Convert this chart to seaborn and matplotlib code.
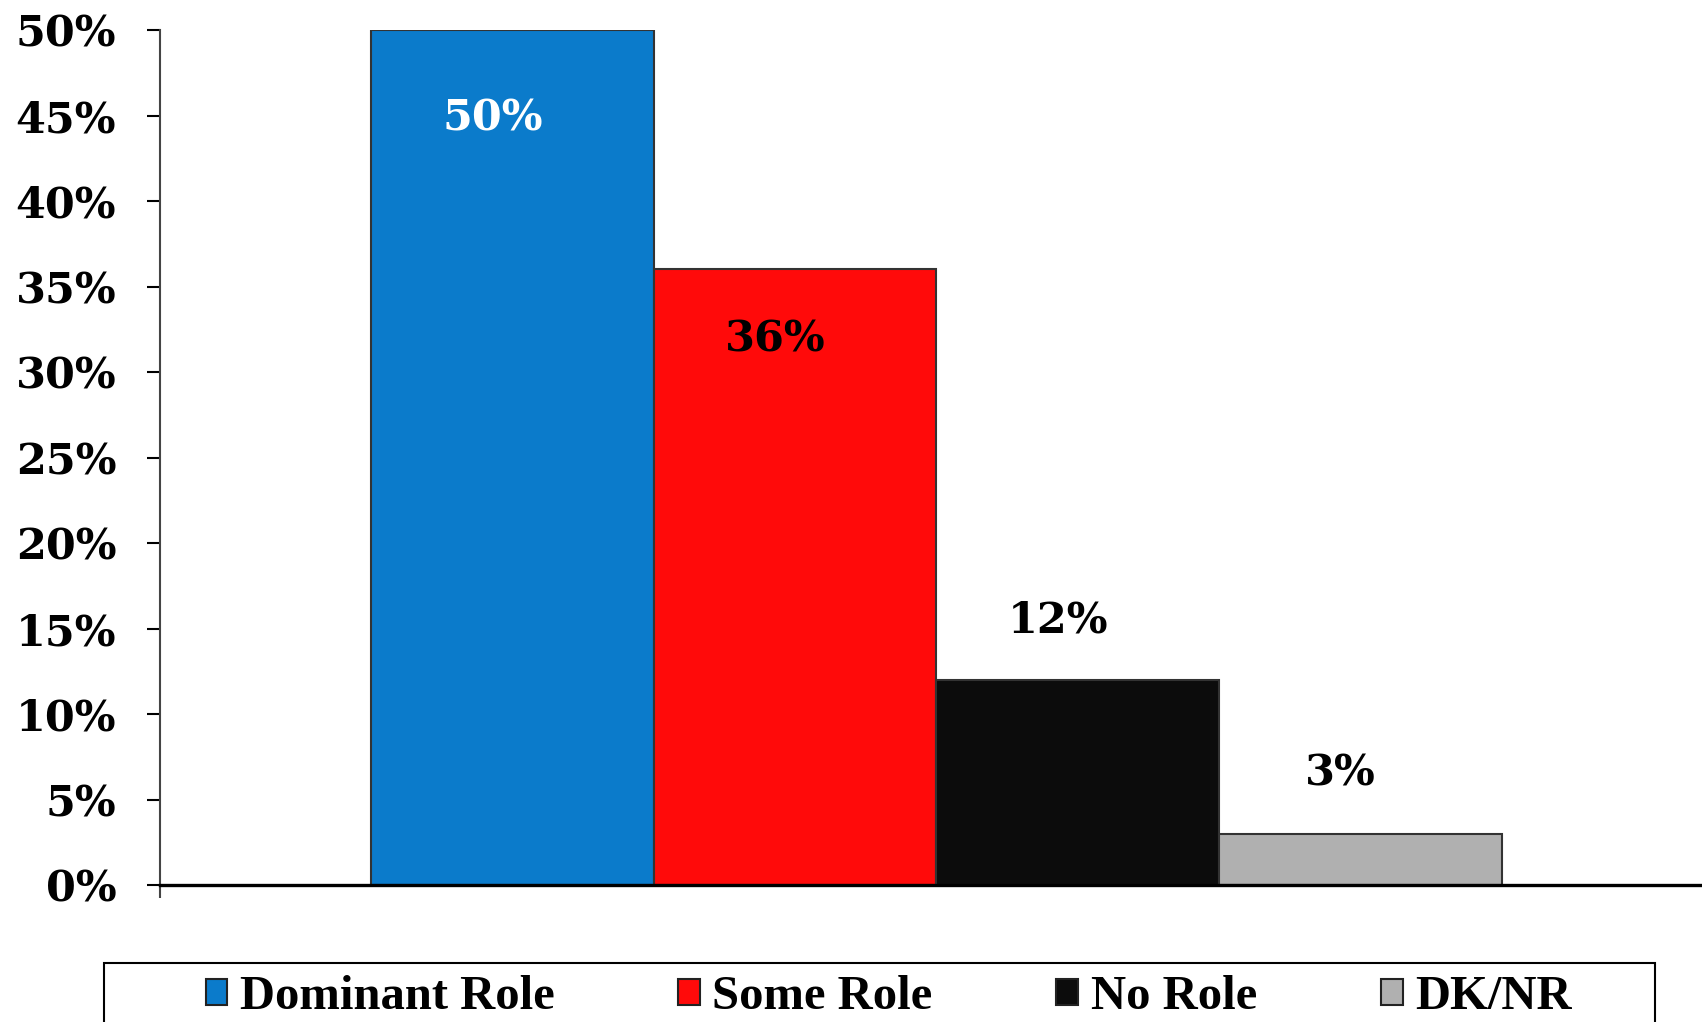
import pandas as pd
import matplotlib
matplotlib.use('Agg')
import matplotlib.pyplot as plt
import matplotlib.patches as mpatches
import seaborn as sns

# Chart data
ROLES = ['Dominant Role', 'Some Role', 'No Role', 'DK/NR']
PCTS = [50, 36, 12, 3]
COLORS = ['#0B7BCB', '#FF0A0A', '#0C0C0C', '#B0B0B0']
LABEL_COLORS = ['white', 'black', 'black', 'black']
YTICKS = [0, 5, 10, 15, 20, 25, 30, 35, 40, 45, 50]

sns.set_style('white')
plt.rcParams['font.family'] = ['DejaVu Serif']
plt.rcParams['text.color'] = 'black'
plt.rcParams['ytick.color'] = 'black'

df = pd.DataFrame({'group': ['all'] * len(ROLES), 'role': ROLES, 'pct': PCTS})

fig = plt.figure(figsize=(17.02, 10.22), dpi=100)
ax = fig.add_axes([0.094, 0.134, 0.906, 0.8366])
sns.barplot(data=df, x='group', y='pct', hue='role', hue_order=ROLES,
            palette=COLORS, width=0.733, saturation=1, legend=False,
            edgecolor='#333333', linewidth=1.5, ax=ax)

x0 = -0.5035
ax.set_xlim(x0, x0 + 1)
ax.set_ylim(0, 50)
ax.set_yticks(YTICKS)
ax.set_yticklabels(['{}%'.format(t) for t in YTICKS], fontsize=31,
                   fontweight='bold', color='black')
ax.set_xticks([x0])
ax.set_xticklabels([''])
ax.tick_params(axis='y', direction='out', length=9.5, width=1.5, color='black', pad=22, left=True)
ax.tick_params(axis='x', direction='out', length=9.5, width=1.5, color='#444444', bottom=True)
ax.set_xlabel('')
ax.set_ylabel('')

for s in ['top', 'right']:
    ax.spines[s].set_visible(False)
ax.spines['left'].set_color('#444444')
ax.spines['left'].set_linewidth(1.5)
ax.spines['bottom'].set_color('black')
ax.spines['bottom'].set_linewidth(2.4)
ax.spines['bottom'].set_zorder(5)

# value labels: inside the tall bars, above the short ones (slightly left of centre)
for bar, val, col in zip(ax.patches, PCTS, LABEL_COLORS):
    cx = bar.get_x() + bar.get_width() / 2
    if val > 20:
        y = val - 5.2 if val > 40 else val - 4.1
    else:
        y = val + 3.5
    ax.annotate('{}%'.format(val), (cx, y), xytext=(-14, 0), textcoords='offset points',
                ha='center', va='center', fontsize=31, fontweight='bold', color=col)

# legend box (runs off the bottom of the figure like the original)
frame = mpatches.Rectangle((104 / 1702, -0.05), 1551 / 1702, 0.05 + 0.0577,
                           transform=fig.transFigure, facecolor='white',
                           edgecolor='black', linewidth=1.5)
fig.patches.append(frame)

handles = [mpatches.Patch(facecolor=c, edgecolor='#222222', linewidth=1.5, label=r)
           for r, c in zip(ROLES, COLORS)]
leg = fig.legend(handles=handles, loc='center', ncol=4,
                 bbox_to_anchor=(0.522, 0.0245),
                 prop={'family': 'Liberation Serif', 'weight': 'bold', 'size': 35},
                 frameon=False, handlelength=0.45, handleheight=0.45,
                 handletextpad=0.25, columnspacing=2.55, borderpad=0, borderaxespad=0)

plt.savefig('out.png', dpi=100)
